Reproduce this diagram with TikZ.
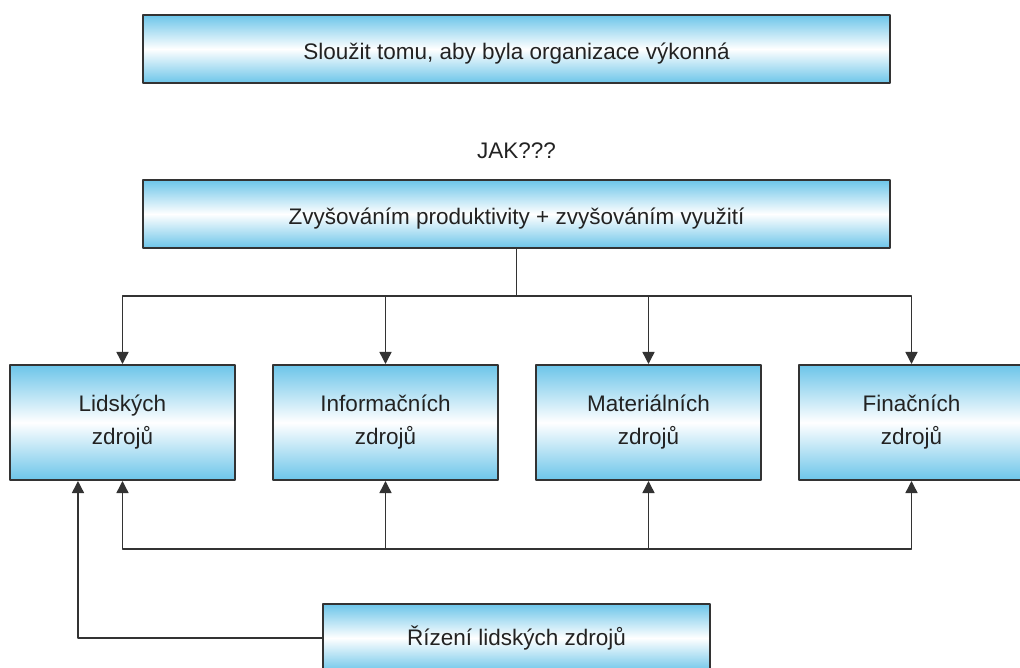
\documentclass[tikz,border=0pt]{standalone}
\usepackage{fontspec}
\setmainfont{Liberation Sans}
\usetikzlibrary{arrows.meta}
\definecolor{boxblue}{HTML}{6CC5E9}
\definecolor{linegray}{HTML}{333333}
\definecolor{textgray}{HTML}{222222}
\begin{document}
\begin{tikzpicture}[x=0.025cm, y=-0.025cm, font=\fontsize{16}{23.4}\selectfont, text=textgray, line join=round, >={Triangle[length=0.3cm,width=0.3cm]},
	box/.style={draw=linegray, line width=1.4pt, top color=boxblue, bottom color=boxblue, middle color=white, align=center, inner sep=0pt},
	wide/.style={box, minimum width=18.675cm, minimum height=1.7cm, text height=0.62cm, text depth=0.1cm},
	res/.style={box, minimum width=5.625cm, minimum height=2.875cm},
	conn/.style={draw=linegray, line width=1pt}]
	\useasboundingbox (0,0) rectangle (1020,668);
	\clip (0,0) rectangle (1020,668);
	\node[wide] (goal) at (516.5,49) {Sloužit tomu, aby byla organizace výkonná};
	\node (how) at (516.5,151) {JAK???};
	\node[wide] (way) at (516.5,214) {Zvyšováním produktivity + zvyšováním využití};
	\foreach \x/\name/\txt in {122.5/lid/Lidských, 385.5/inf/Informačních, 648.5/mat/Materiálních, 911.5/fin/Finačních}{
		\node[res] (\name) at (\x,422.5) {\txt\\zdrojů};
	}
	\node[box, minimum width=9.675cm, minimum height=1.7cm] (hrm) at (516.5,638) {Řízení lidských zdrojů};
	\coordinate (split) at (516.5,296);
	\coordinate (join) at (516.5,549);
	\draw[conn] (way.south) -- (split);
	\foreach \name in {lid,inf,mat,fin}{
		\draw[conn,->] (split) -| (\name.north);
		\draw[conn,->] (join) -| (\name.south);
	}
	\draw[conn,->] (hrm.west) -| ([xshift=-1.1125cm]lid.south);
\end{tikzpicture}
\end{document}
